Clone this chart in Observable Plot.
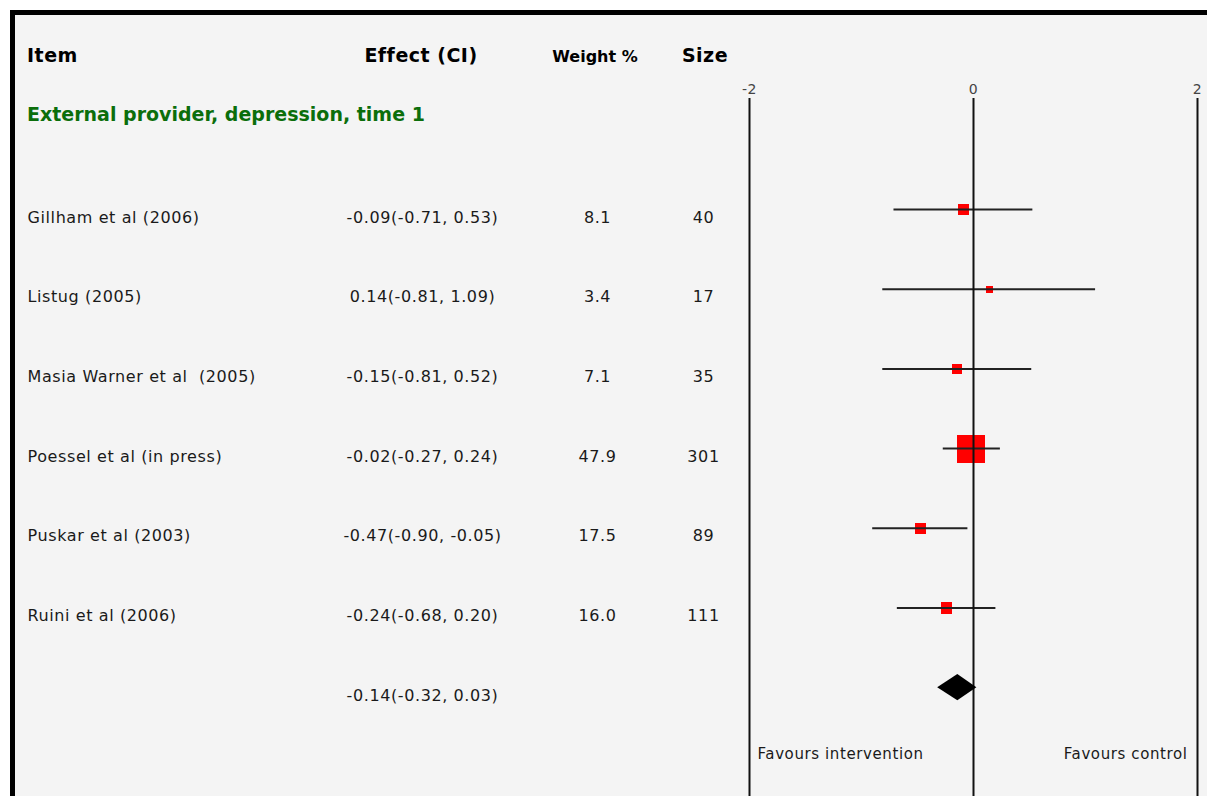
<!DOCTYPE html>
<html>
<head>
<meta charset="utf-8">
<script src="https://cdn.jsdelivr.net/npm/d3@7"></script>
<script src="https://cdn.jsdelivr.net/npm/@observablehq/plot@0.6"></script>
<style>
  html, body { margin: 0; padding: 0; background: #ffffff; overflow: hidden; }
  #frame {
    position: absolute; left: 10px; top: 10px;
    width: 1192px; height: 781px;
    border-left: 5px solid #000; border-top: 5px solid #000;
    background: #f4f4f4;
    font-family: "DejaVu Sans", Verdana, sans-serif;
  }
  .hdr { position: absolute; line-height: 1; font-weight: bold; color: #000; white-space: nowrap; }
  .big { font-size: 19px; letter-spacing: 0.5px; }
  .mid { font-size: 16px; }
  .ctr { transform: translateX(-50%); }
  .grp { position: absolute; line-height: 1; font-weight: bold; font-size: 19px; color: #0b6e0b; white-space: nowrap; }
  #chart { position: absolute; left: 0; top: 0; }
  #chart svg text { letter-spacing: 0.6px; white-space: pre; }
  #chart svg g[aria-label^="x-axis"], #chart svg g[aria-label^="x-axis"] text { font-size: 14px !important; }
</style>
</head>
<body>
<div id="frame">
  <div class="hdr big" style="left:12px; top:31px;">Item</div>
  <div class="hdr big ctr" style="left:406px; top:31px;">Effect (CI)</div>
  <div class="hdr mid ctr" style="left:580px; top:33.5px;">Weight %</div>
  <div class="hdr big ctr" style="left:690px; top:31px;">Size</div>
  <div class="grp" style="left:12px; top:90px;">External provider, depression, time 1</div>
  <div id="chart"></div>
</div>
<script>
// ---- data ----
const studies = ["Gillham et al (2006)", "Listug (2005)", "Masia Warner et al  (2005)", "Poessel et al (in press)", "Puskar et al (2003)", "Ruini et al (2006)"];
const effects = [-0.09, 0.14, -0.15, -0.02, -0.47, -0.24];
const lowers  = [-0.71, -0.81, -0.81, -0.27, -0.90, -0.68];
const uppers  = [0.53, 1.09, 0.52, 0.24, -0.05, 0.20];
const weights = [8.1, 3.4, 7.1, 47.9, 17.5, 16.0];
const sizes   = [40, 17, 35, 301, 89, 111];
const pooledEffect = -0.14;
const pooledLower = -0.32;
const pooledUpper = 0.03;
const xTicks = [-2, 0, 2];
const favourLeft = "Favours intervention";
const favourRight = "Favours control";

// ---- derived tables ----
const ci = (e, l, u) => `${e.toFixed(2)}(${l.toFixed(2)}, ${u.toFixed(2)})`;
const rows = studies.map((name, i) => ({
  i, name,
  effect: effects[i], lower: lowers[i], upper: uppers[i],
  weight: weights[i], size: sizes[i],
  ciText: ci(effects[i], lowers[i], uppers[i]),
  weightText: weights[i].toFixed(1),
  sizeText: String(sizes[i])
}));
const pooledRow = {i: rows.length, ciText: ci(pooledEffect, pooledLower, pooledUpper)};
const h = 0.165; // diamond half-height in row units
const diamond = [
  {y: pooledRow.i - h, x1: pooledEffect, x2: pooledEffect},
  {y: pooledRow.i, x1: pooledLower, x2: pooledUpper},
  {y: pooledRow.i + h, x1: pooledEffect, x2: pooledEffect}
];

const textColor = "#1a1a1a";
const chart = Plot.plot({
  width: 1192, height: 781,
  marginTop: 83, marginBottom: 0, marginLeft: 734, marginRight: 10,
  style: {background: "transparent", fontFamily: "DejaVu Sans, Verdana, sans-serif", fontSize: "12px", overflow: "visible"},
  x: {domain: [-2, 2], label: null, axis: null},
  y: {domain: [-1.393, 7.365], reverse: true, axis: null},
  r: {type: "linear", domain: [3.4, 8.1, 17.5, 47.9], range: [3.95, 6.2, 6.3, 15.8]},
  marks: [
    Plot.axisX(xTicks, {anchor: "top", tickSize: 0, tickPadding: 5, tickFormat: d => String(d), fontSize: 14, fill: "#444", label: null}),
    Plot.dot(rows, {x: "effect", y: "i", r: "weight", symbol: "square", fill: "#ff0000", stroke: "none", shapeRendering: "crispEdges"}),
    Plot.ruleY(rows, {y: "i", x1: "lower", x2: "upper", stroke: "#222", strokeWidth: 2}),
    Plot.ruleX(xTicks, {stroke: "#111", strokeWidth: 2}),
    Plot.areaX(diamond, {y: "y", x1: "x1", x2: "x2", fill: "#000"}),
    Plot.text(rows, {y: "i", text: "name", frameAnchor: "left", textAnchor: "start", dx: -722, dy: 8, fontSize: 16, fill: textColor}),
    Plot.text([...rows, pooledRow], {y: "i", text: "ciText", frameAnchor: "left", textAnchor: "middle", dx: -327, dy: 8, fontSize: 16, fill: textColor}),
    Plot.text(rows, {y: "i", text: "weightText", frameAnchor: "left", textAnchor: "middle", dx: -152, dy: 8, fontSize: 16, fill: textColor}),
    Plot.text(rows, {y: "i", text: "sizeText", frameAnchor: "left", textAnchor: "middle", dx: -46, dy: 8, fontSize: 16, fill: textColor}),
    Plot.text([favourLeft], {text: d => d, frameAnchor: "bottom-left", textAnchor: "start", lineAnchor: "bottom", dx: 8, dy: -38, fontSize: 15, fill: textColor}),
    Plot.text([favourRight], {text: d => d, frameAnchor: "bottom-right", textAnchor: "end", lineAnchor: "bottom", dx: -10, dy: -38, fontSize: 15, fill: textColor})
  ]
});
document.getElementById("chart").appendChild(chart);
</script>
</body>
</html>
